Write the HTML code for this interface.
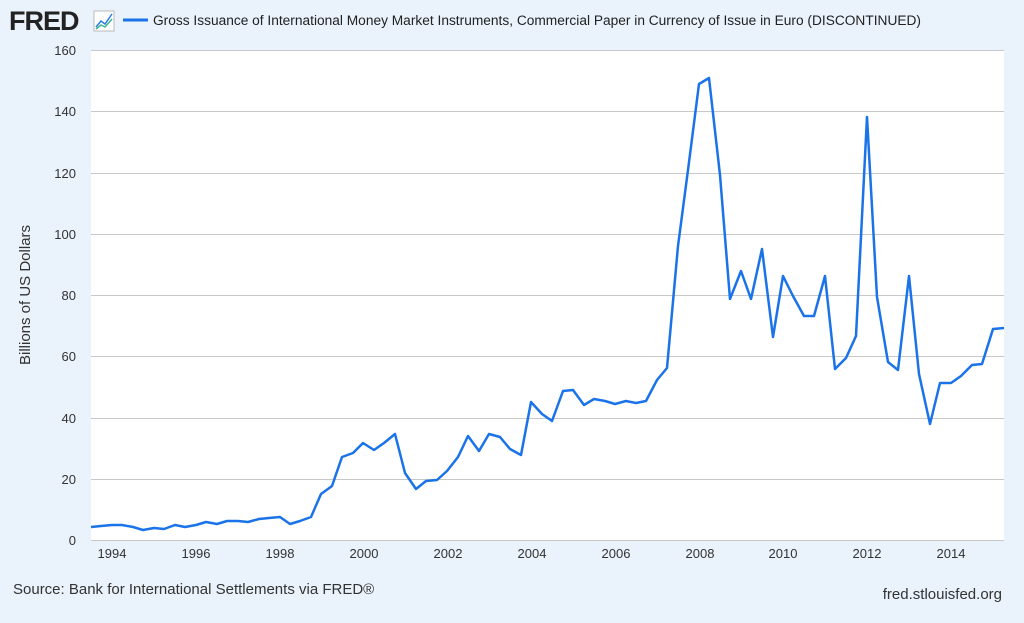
<!DOCTYPE html>
<html><head><style>
body{margin:0;background:#eaf2fb;font-family:"Liberation Sans",sans-serif;}
</style></head><body>
<svg width="1024" height="623" xmlns="http://www.w3.org/2000/svg" style="display:block">
<rect width="1024" height="623" fill="#eaf2fb"/>
<text x="9" y="30" font-size="27" font-weight="bold" fill="#222" font-family="Liberation Sans" letter-spacing="-1">FRED</text>
<rect x="94" y="11" width="20" height="20" fill="#fff" stroke="#bbb" stroke-width="1"/>
<polyline points="96,27 101,21 105,24 112,14" fill="none" stroke="#2a7be0" stroke-width="1.5"/>
<polyline points="96,29 101,25 105,27 112,19" fill="none" stroke="#3cb88a" stroke-width="1.5"/>
<line x1="123" y1="20" x2="148" y2="20" stroke="#1a73e8" stroke-width="3"/>
<text x="153" y="25" font-size="13.5" fill="#222" textLength="768" lengthAdjust="spacingAndGlyphs">Gross Issuance of International Money Market Instruments, Commercial Paper in Currency of Issue in Euro (DISCONTINUED)</text>
<rect x="91" y="50" width="913" height="490" fill="#fff"/>
<g stroke="#c8c8c8" stroke-width="1">
<line x1="91" y1="50.5" x2="1004" y2="50.5"/><line x1="91" y1="111.5" x2="1004" y2="111.5"/>
<line x1="91" y1="173.5" x2="1004" y2="173.5"/><line x1="91" y1="234.5" x2="1004" y2="234.5"/>
<line x1="91" y1="295.5" x2="1004" y2="295.5"/><line x1="91" y1="356.5" x2="1004" y2="356.5"/>
<line x1="91" y1="418.5" x2="1004" y2="418.5"/><line x1="91" y1="479.5" x2="1004" y2="479.5"/>
<line x1="91" y1="540.5" x2="1004" y2="540.5"/>
</g>
<g font-size="13" fill="#333" text-anchor="end">
<text x="76" y="55">160</text><text x="76" y="116">140</text><text x="76" y="178">120</text>
<text x="76" y="239">100</text><text x="76" y="300">80</text><text x="76" y="361">60</text>
<text x="76" y="423">40</text><text x="76" y="484">20</text><text x="76" y="545">0</text>
</g>
<g font-size="13" fill="#333" text-anchor="middle">
<text x="112" y="558">1994</text><text x="196" y="558">1996</text><text x="280" y="558">1998</text>
<text x="364" y="558">2000</text><text x="448" y="558">2002</text><text x="532" y="558">2004</text>
<text x="616" y="558">2006</text><text x="700" y="558">2008</text><text x="783" y="558">2010</text>
<text x="867" y="558">2012</text><text x="951" y="558">2014</text>
</g>
<text transform="translate(30,295) rotate(-90)" font-size="15" fill="#333" text-anchor="middle">Billions of US Dollars</text>
<polyline fill="none" stroke="#1a73e8" stroke-width="2.5" stroke-linejoin="round" points="91,527 101,526 112,525 122,525 133,527 143,530 154,528 164,529 175,525 185,527 196,525 206,522 217,524 227,521 238,521 248,522 259,519 269,518 280,517 290,524 300,521 311,517 321,494 332,486 342,457 353,453 363,443 374,450 384,443 395,434 405,473 416,489 426,481 437,480 447,471 458,457 468,436 479,451 489,434 500,437 510,449 521,455 531,402 542,414 552,421 563,391 573,390 584,405 594,399 605,401 615,404 626,401 636,403 646,401 657,380 667,368 678,246 688,170 699,84 709,78 720,175 730,299 741,271 751,299 762,249 773,337 783,276 793,296 804,316 814,316 825,276 835,369 846,358 856,336 867,117 877,297 888,362 898,370 909,276 919,374 930,424 940,383 951,383 961,376 972,365 982,364 993,329 1004,328"/>
<text x="13" y="594" font-size="15" fill="#333">Source: Bank for International Settlements via FRED®</text>
<text x="1002" y="599" font-size="15" fill="#333" text-anchor="end">fred.stlouisfed.org</text>
</svg>
</body></html>
